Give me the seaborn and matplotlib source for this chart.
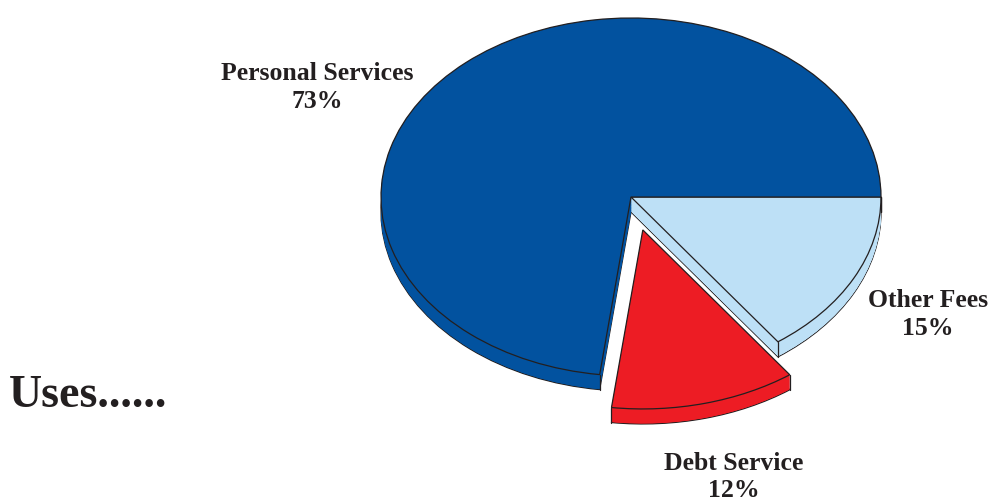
import matplotlib
matplotlib.use("Agg")
import matplotlib.pyplot as plt
import seaborn as sns
import numpy as np

labels = ["Other Fees", "Debt Service", "Personal Services"]
values = [15, 12, 73]
colors = ["#BDE0F6", "#ED1C24", "#02529F"]
explode = [0.0, 0.19, 0.0]

sns.set_theme(style="white")
plt.rcParams["font.family"] = ["Liberation Serif", "DejaVu Serif"]

W, H = 991, 504
fig = plt.figure(figsize=(W / 100, H / 100), dpi=100)
ax = fig.add_axes([0, 0, 1, 1])

cx, cy = 631, 197      # pie centre in pixels (from top)
rx, ry = 250, 179      # ellipse radii in pixels
depth = 15             # thickness in pixels

edge = "#231F20"
d = depth / ry
nlayers = 40

# bottom outline layer
ax.pie(values, colors=colors, explode=explode, startangle=0, counterclock=False,
       center=(0, -d), wedgeprops=dict(edgecolor=edge, linewidth=0.9), frame=True)
# body layers
for k in range(1, nlayers):
    off = -d + d * k / nlayers
    ax.pie(values, colors=colors, explode=explode, startangle=0, counterclock=False,
           center=(0, off), wedgeprops=dict(edgecolor="none", linewidth=0), frame=True)
# top face
ax.pie(values, colors=colors, explode=explode, startangle=0, counterclock=False,
       center=(0, 0), wedgeprops=dict(edgecolor=edge, linewidth=0.9), frame=True)

# vertical side edges at visible wedge corners
total = sum(values)
ang = 0.0
for v, e in zip(values, explode):
    a0 = ang
    a1 = ang - 360 * v / total
    mid = np.deg2rad((a0 + a1) / 2)
    ox, oy = e * np.cos(mid), e * np.sin(mid)
    for a in (a0, a1):
        t = np.deg2rad(a)
        px, py = ox + np.cos(t), oy + np.sin(t)
        if py < 0.05:
            ax.plot([px, px], [py, py - d], color=edge, lw=0.9, zorder=5)
    ang = a1

ax.set_aspect("auto")
ax.set_xlim(-cx / rx, (W - cx) / rx)
ax.set_ylim(-(H - cy) / ry, cy / ry)
ax.axis("off")

tc = "#231F20"
def px2fig(x, y):
    return x / W, 1 - y / H

def label(x, y1, y2, l1, l2, size=18.5):
    fig.text(*px2fig(x, y1), l1, ha="center", va="baseline",
             fontsize=size, fontweight="bold", color=tc)
    fig.text(*px2fig(x, y2), l2, ha="center", va="baseline",
             fontsize=size, fontweight="bold", color=tc)

label(317, 80, 108, "Personal Services", "73%")
label(928, 307, 335, "Other Fees", "15%")
label(734, 470, 497, "Debt Service", "12%")

fig.text(*px2fig(9, 407), "Uses......", ha="left", va="baseline",
         fontsize=33, fontweight="bold", color=tc)

fig.savefig("out.png", dpi=100, facecolor="white")
